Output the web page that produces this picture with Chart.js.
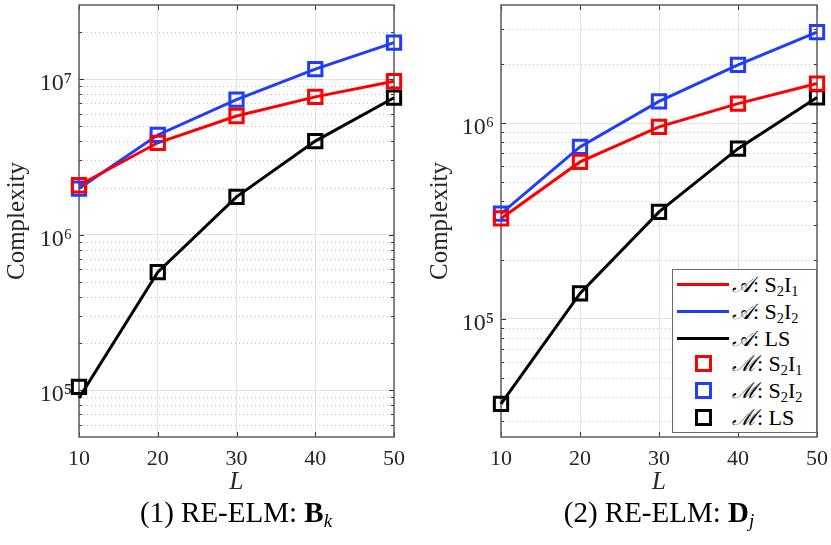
<!DOCTYPE html>
<html>
<head>
<meta charset="utf-8">
<script src="https://cdn.jsdelivr.net/npm/chart.js@4.4.0/dist/chart.umd.min.js"></script>
<style>
  body { margin: 0; background: #fff; }
  #page { position: relative; width: 831px; height: 545px; overflow: hidden; font-family: "Liberation Serif", serif; color: #262626; }
  canvas { position: absolute; top: 0; }
  #c1 { left: 0; }
  #c2 { left: 415px; }
  .cap { position: absolute; top: 498px; font-size: 29px; line-height: 29px; white-space: nowrap; transform: translateX(-50%); color: #000; }
  .cap sub, .lg sub { font-size: 65%; vertical-align: -0.25em; line-height: 0; }
  .cap i { font-style: italic; }
  #legend { position: absolute; left: 672px; top: 269px; width: 145px; height: 164px; box-sizing: border-box; border: 1px solid #6b6b6b; background: #fff; font-size: 22px; color: #000; }
  .lg { position: absolute; left: 0; height: 27px; line-height: 27px; width: 100%; white-space: nowrap; }
  .lg .txt { position: absolute; left: 59px; top: 0; }
  .lg .ln { position: absolute; left: 4px; top: 12px; width: 52px; height: 3px; }
  .lg .mk { position: absolute; left: 22px; top: 5px; width: 17px; height: 17px; box-sizing: border-box; border: 3px solid; }
</style>
</head>
<body>
<div id="page">
  <canvas id="c1" width="415" height="545"></canvas>
  <canvas id="c2" width="416" height="545"></canvas>
  <div class="cap" style="left:236px">(1) RE-ELM: <b>B</b><sub><i>k</i></sub></div>
  <div class="cap" style="left:659px">(2) RE-ELM: <b>D</b><sub><i>j</i></sub></div>
  <div id="legend"></div>
</div>
<script>
// x values
const L = [10, 20, 30, 40, 50];

// (1) RE-ELM: B_k  -- analytic (lines) and measured (markers)
const bLineS2I1 = [2.08e6, 3.9e6, 5.8e6, 7.7e6, 9.7e6];
const bLineS2I2 = [1.98e6, 4.38e6, 7.4e6, 1.16e7, 1.72e7];
const bLineLS   = [8.9e4, 5.74e5, 1.75e6, 4.0e6, 7.6e6];
const bMarkS2I1 = [2.08e6, 3.9e6, 5.8e6, 7.7e6, 9.7e6];
const bMarkS2I2 = [1.98e6, 4.38e6, 7.4e6, 1.16e7, 1.72e7];
const bMarkLS   = [1.05e5, 5.74e5, 1.75e6, 4.0e6, 7.6e6];

// (2) RE-ELM: D_j
const dLineS2I1 = [3.26e5, 6.33e5, 9.55e5, 1.255e6, 1.59e6];
const dLineS2I2 = [3.45e5, 7.55e5, 1.29e6, 1.98e6, 2.91e6];
const dLineLS   = [3.69e4, 1.35e5, 3.52e5, 7.4e5, 1.35e6];
const dMarkS2I1 = [3.26e5, 6.33e5, 9.55e5, 1.255e6, 1.59e6];
const dMarkS2I2 = [3.45e5, 7.55e5, 1.29e6, 1.98e6, 2.91e6];
const dMarkLS   = [3.69e4, 1.35e5, 3.52e5, 7.4e5, 1.35e6];

// y tick decades per panel
const bDecades = [1e5, 1e6, 1e7];
const dDecades = [1e5, 1e6];

// legend labels
const legendPrefix = ['𝒜', '𝒜', '𝒜', 'ℳ', 'ℳ', 'ℳ'];
const legendNames  = ['S_2I_1', 'S_2I_2', 'LS', 'S_2I_1', 'S_2I_2', 'LS'];

const RED = '#ff0000', BLUE = '#1f3dff', BLACK = '#000000';
const FONT = 'Liberation Serif';
const sup = {'0':'⁰','1':'¹','2':'²','3':'³','4':'⁴','5':'⁵','6':'⁶','7':'⁷','8':'⁸','9':'⁹'};

// minor dotted grid, axes box and inward ticks like matlab
const boxPlugin = {
  id: 'matlabBox',
  beforeDatasetsDraw(chart) {
    const {ctx, chartArea: a, scales: {x, y}} = chart;
    ctx.save();
    ctx.lineWidth = 1;
    const minors = [];
    for (let e = Math.floor(Math.log10(y.min)); e <= Math.ceil(Math.log10(y.max)); e++) {
      for (let s = 2; s <= 9; s++) {
        const v = s * Math.pow(10, e);
        if (v > y.min && v < y.max) minors.push(v);
      }
    }
    ctx.strokeStyle = '#c4c4c4';
    ctx.setLineDash([1, 3]);
    minors.forEach(v => {
      const py = Math.round(y.getPixelForValue(v)) + 0.5;
      ctx.beginPath(); ctx.moveTo(a.left, py); ctx.lineTo(a.right, py); ctx.stroke();
    });
    ctx.setLineDash([]);
    ctx.strokeStyle = '#333';
    minors.forEach(v => {
      const py = Math.round(y.getPixelForValue(v)) + 0.5;
      ctx.beginPath();
      ctx.moveTo(a.left, py); ctx.lineTo(a.left + 3, py);
      ctx.moveTo(a.right, py); ctx.lineTo(a.right - 3, py);
      ctx.stroke();
    });
    y.ticks.forEach(t => {
      const py = Math.round(y.getPixelForValue(t.value)) + 0.5;
      ctx.beginPath();
      ctx.moveTo(a.left, py); ctx.lineTo(a.left + 5, py);
      ctx.moveTo(a.right, py); ctx.lineTo(a.right - 5, py);
      ctx.stroke();
    });
    x.ticks.forEach(t => {
      const px = Math.round(x.getPixelForValue(t.value)) + 0.5;
      ctx.beginPath();
      ctx.moveTo(px, a.bottom); ctx.lineTo(px, a.bottom - 5);
      ctx.moveTo(px, a.top); ctx.lineTo(px, a.top + 5);
      ctx.stroke();
    });
    ctx.strokeStyle = '#5e5e5e';
    ctx.lineWidth = 1.5;
    ctx.strokeRect(a.left, a.top, a.right - a.left, a.bottom - a.top);
    ctx.restore();
  }
};

function pts(ys) {
  return L.map((v, i) => ({x: v, y: ys[i]}));
}

function lineSet(ys, color) {
  return {data: pts(ys), borderColor: color, borderWidth: 3, pointRadius: 0, fill: false, tension: 0, order: 2, clip: false};
}

function markSet(ys, color) {
  return {data: pts(ys), showLine: false, borderColor: color, backgroundColor: 'transparent',
    pointStyle: 'rect', pointRadius: 9.4, pointBorderWidth: 3, pointBorderColor: color, order: 1, clip: false};
}

function makeChart(id, sets, ymin, ymax, decades, yWidth, padRight, titlePad) {
  return new Chart(document.getElementById(id), {
    type: 'line',
    data: {datasets: sets},
    plugins: [boxPlugin],
    options: {
      responsive: false,
      animation: false,
      devicePixelRatio: 1,
      layout: {autoPadding: false, padding: {top: 5, right: padRight, left: 0, bottom: 0}},
      plugins: {legend: {display: false}, tooltip: {enabled: false}},
      scales: {
        x: {
          type: 'linear', min: 10, max: 50,
          afterBuildTicks: s => { s.ticks = L.map(v => ({value: v})); },
          afterFit: s => { s.height = 108; s.paddingLeft = 0; s.paddingRight = 0; },
          ticks: {font: {family: FONT, size: 22}, color: '#262626', padding: 9, maxRotation: 0, autoSkip: false},
          grid: {color: '#e2e2e2', drawTicks: false},
          border: {display: false},
          title: {display: true, text: 'L', color: '#262626', font: {family: FONT, size: 25, style: 'italic'}, padding: {top: 0, bottom: 48}}
        },
        y: {
          type: 'logarithmic', min: ymin, max: ymax,
          afterBuildTicks: s => { s.ticks = decades.map(v => ({value: v, major: true})); },
          afterFit: s => { s.width = yWidth; s.paddingTop = 0; s.paddingBottom = 0; },
          ticks: {
            font: {family: FONT, size: 24}, color: '#262626', padding: 7, labelOffset: 5,
            callback: v => '10' + String(Math.round(Math.log10(v))).split('').map(c => sup[c]).join('')
          },
          grid: {color: '#e2e2e2', drawTicks: false},
          border: {display: false},
          title: {display: true, text: 'Complexity', color: '#262626', font: {family: FONT, size: 25}, padding: {top: titlePad, bottom: 0}}
        }
      }
    }
  });
}

makeChart('c1', [
  lineSet(bLineS2I1, RED), lineSet(bLineS2I2, BLUE), lineSet(bLineLS, BLACK),
  markSet(bMarkS2I1, RED), markSet(bMarkS2I2, BLUE), markSet(bMarkLS, BLACK)
], 5e4, 3e7, bDecades, 79, 21, 2);

makeChart('c2', [
  lineSet(dLineS2I1, RED), lineSet(dLineS2I2, BLUE), lineSet(dLineLS, BLACK),
  markSet(dMarkS2I1, RED), markSet(dMarkS2I2, BLUE), markSet(dMarkLS, BLACK)
], 2.5e4, 4e6, dDecades, 86, 14, 10);

// html legend (needs calligraphic letters and subscripts)
const legendColors = [RED, BLUE, BLACK, RED, BLUE, BLACK];
const rowCenters = [15, 42, 69, 94, 121, 148];
const lg = document.getElementById('legend');
legendNames.forEach((name, i) => {
  const row = document.createElement('div');
  row.className = 'lg';
  row.style.top = (rowCenters[i] - 14) + 'px';
  const sym = i < 3
    ? '<span class="ln" style="background:' + legendColors[i] + '"></span>'
    : '<span class="mk" style="border-color:' + legendColors[i] + '"></span>';
  const txt = name.replace(/_(\d)/g, '<sub>$1</sub>');
  row.innerHTML = sym + '<span class="txt"><i>' + legendPrefix[i] + '</i>:&nbsp;' + txt + '</span>';
  lg.appendChild(row);
});
</script>
</body>
</html>
